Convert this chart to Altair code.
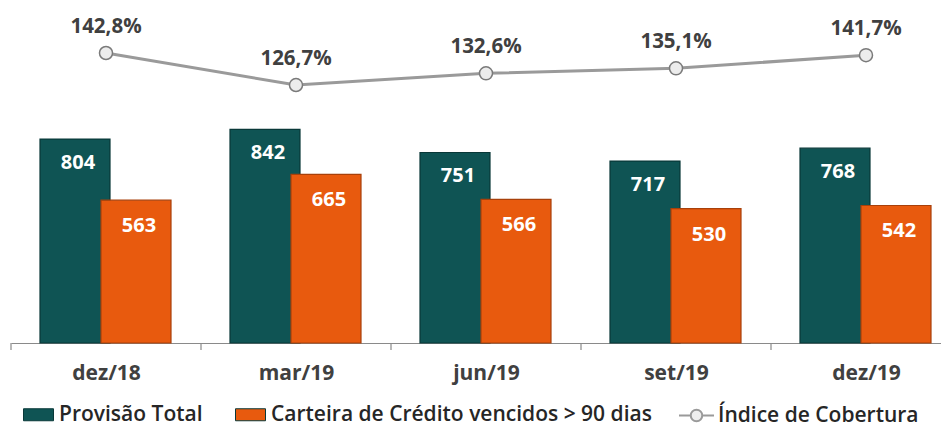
import altair as alt
import pandas as pd

categorias = ["dez/18", "mar/19", "jun/19", "set/19", "dez/19"]
provisao_total = [804, 842, 751, 717, 768]
carteira_vencidos = [563, 665, 566, 530, 542]
indice_cobertura = [142.8, 126.7, 132.6, 135.1, 141.7]
series = ["Provisão Total", "Carteira de Crédito vencidos > 90 dias"]
serie_linha = "Índice de Cobertura"

TEAL = "#0f5454"
ORANGE = "#e85a0e"
GRAY = "#9a9a9a"
TXT = "#404040"
AXIS_GRAY = "#8a8a8a"
FONT = "Open Sans"

PLOT_W = 930
STEP_PX = 190

rows = []
for i, (c, p, v) in enumerate(zip(categorias, provisao_total, carteira_vencidos)):
    rows.append({"idx": i, "cat": c, "serie": series[0], "valor": p})
    rows.append({"idx": i, "cat": c, "serie": series[1], "valor": v})
df_bars = pd.DataFrame(rows)

df_line = pd.DataFrame({
    "idx": list(range(len(categorias))),
    "cat": categorias,
    "indice": indice_cobertura,
    "serie": [serie_linha] * len(categorias),
    "rotulo": [f"{v:.1f}%".replace(".", ",") for v in indice_cobertura],
})

df_bounds = pd.DataFrame({"idx": [i - 0.5 for i in range(len(categorias))]})

label_expr = "[" + ",".join(f"'{c}'" for c in categorias) + "][datum.value]"
x_scale = alt.Scale(domain=[-0.5, -0.5 + PLOT_W / STEP_PX], nice=False, zero=False, padding=0)

x_axis = alt.Axis(
    values=list(range(len(categorias))),
    labelExpr=label_expr,
    labelAngle=0,
    labelFont=FONT,
    labelFontSize=21,
    labelFontWeight="bold",
    labelColor=TXT,
    labelPadding=19,
    labelFlush=False,
    labelOverlap=False,
    domainColor=AXIS_GRAY,
    domainWidth=1.2,
    ticks=False,
    grid=False,
)

xenc = alt.X("idx:Q", title=None, scale=x_scale, axis=x_axis)

ybar = alt.Y("valor:Q", scale=alt.Scale(domain=[0, 1312.6], nice=False, zero=True), axis=None)
yline = alt.Y("indice:Q", scale=alt.Scale(domain=[-2.9, 164.4], nice=False, zero=False), axis=None)

color_enc = alt.Color(
    "serie:N",
    scale=alt.Scale(domain=series, range=[TEAL, ORANGE]),
    legend=alt.Legend(
        title=None,
        orient="none",
        legendX=12,
        legendY=389,
        direction="horizontal",
        padding=0,
        symbolType="M-1,-0.4H1V0.4H-1Z",
        symbolSize=900,
        symbolStrokeWidth=1,
        labelFont=FONT,
        labelFontSize=21,
        labelFontWeight=600,
        labelColor="#262626",
        labelOffset=5,
        columnPadding=30,
        labelLimit=600,
    ),
)

bars_base = alt.Chart(df_bars).encode(x=xenc, y=ybar)

teal_bars = bars_base.transform_filter(alt.datum.serie == series[0]).mark_bar(
    width=70, xOffset=-31, stroke="#093838", strokeWidth=1.2
).encode(color=color_enc)
orange_bars = bars_base.transform_filter(alt.datum.serie == series[1]).mark_bar(
    width=70, xOffset=30, stroke="#a8400a", strokeWidth=1.2
).encode(color=color_enc)

teal_txt = bars_base.transform_filter(alt.datum.serie == series[0]).mark_text(
    xOffset=-28, dy=24, font=FONT, fontSize=20, fontWeight="bold", color="white"
).encode(text=alt.Text("valor:Q", format="d"))
orange_txt = bars_base.transform_filter(alt.datum.serie == series[1]).mark_text(
    xOffset=33, dy=26, font=FONT, fontSize=20, fontWeight="bold", color="white"
).encode(text=alt.Text("valor:Q", format="d"))

bounds = alt.Chart(df_bounds).mark_rule(color=AXIS_GRAY, strokeWidth=1.2).encode(
    x=alt.X("idx:Q", title=None, scale=x_scale, axis=x_axis),
    y=alt.value(333),
    y2=alt.value(340),
)

bars_layer = alt.layer(teal_bars, orange_bars, teal_txt, orange_txt, bounds)

line_base = alt.Chart(df_line).encode(x=xenc, y=yline)

line = line_base.mark_line(strokeWidth=3).encode(
    stroke=alt.Stroke(
        "serie:N",
        scale=alt.Scale(domain=[serie_linha], range=[GRAY]),
        legend=alt.Legend(
            title=None,
            orient="none",
            legendX=667,
            legendY=387,
            padding=0,
            symbolType="M-1,0H-0.33M0.33,0H1M-0.33,0A0.33,0.33,0,1,1,0.33,0A0.33,0.33,0,1,1,-0.33,0Z",
            symbolSize=1225,
            symbolStrokeWidth=2,
            symbolFillColor="#eeeeee",
            labelFont=FONT,
            labelFontSize=21,
            labelFontWeight=600,
            labelColor="#262626",
            labelOffset=3,
            labelLimit=400,
        ),
    )
)
points = line_base.mark_point(
    filled=True, size=170, fill="#ececec", stroke="#7a7a7a", strokeWidth=1.5, opacity=1
)
line_labels = line_base.mark_text(
    dy=-26, font=FONT, fontSize=20.5, fontWeight="bold", color=TXT
).encode(text="rotulo:N")

line_layer = alt.layer(line, points, line_labels)

chart = (
    alt.layer(bars_layer, line_layer)
    .resolve_scale(y="independent")
    .properties(
        width=PLOT_W,
        height=333,
        autosize=alt.AutoSizeParams(type="none"),
        padding={"left": 3, "top": 2, "right": 0, "bottom": 80},
        background="white",
    )
    .configure_view(stroke=None)
)

chart.save("out.html", embed_options={"renderer": "svg", "actions": False})
